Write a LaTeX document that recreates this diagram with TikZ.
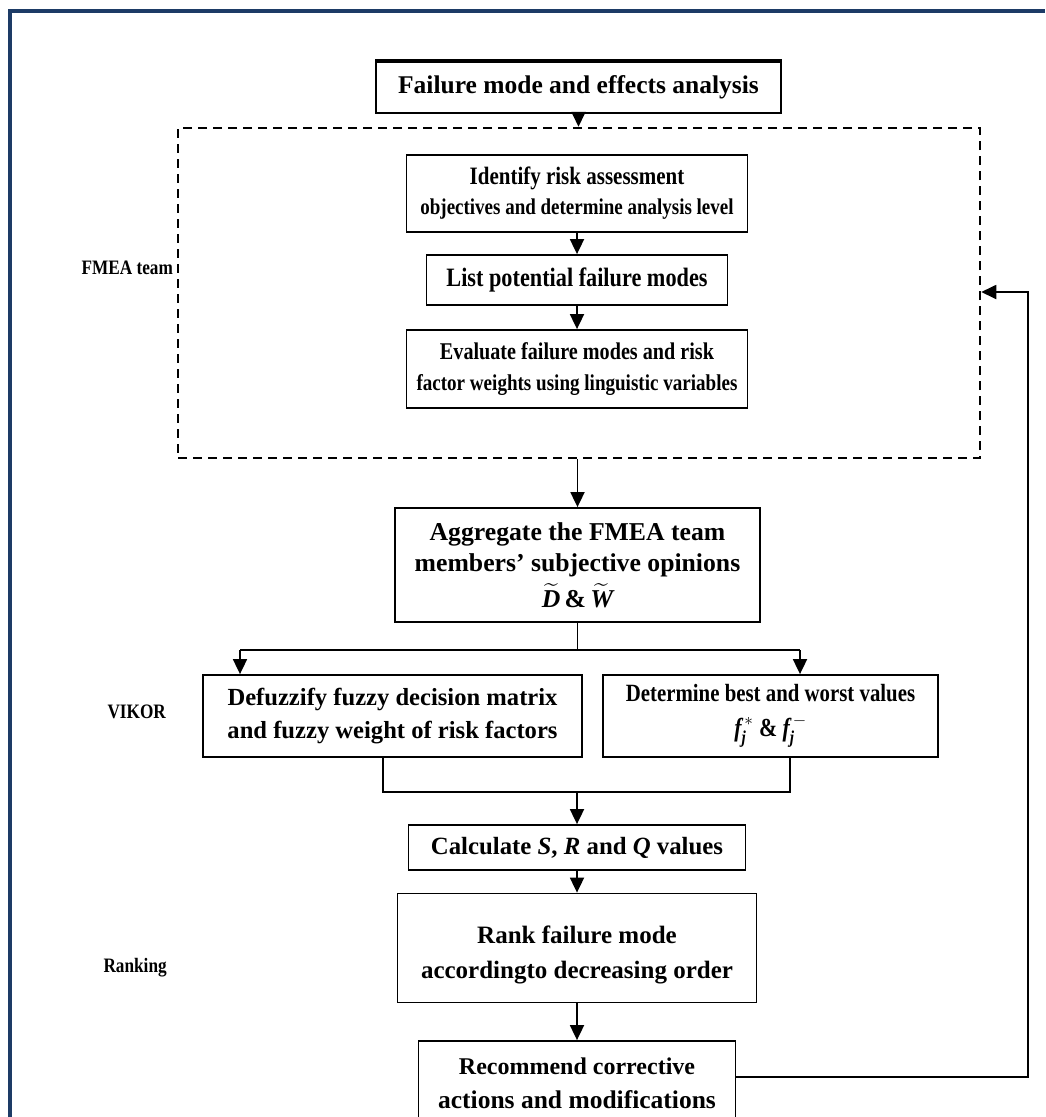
\documentclass[tikz,border=0pt]{standalone}
\usepackage{amsmath}
\usepackage{fontspec}
\setmainfont{Liberation Serif}
\newfontfamily\narrowserif{Liberation Serif}[FakeStretch=0.84]
\usetikzlibrary{arrows.meta}
\definecolor{frameblue}{HTML}{1D3B66}
\newcommand{\fs}[2]{\bfseries\fontsize{#1}{#2}\selectfont}
\newcommand{\nfs}[2]{\narrowserif\bfseries\fontsize{#1}{#2}\selectfont}
\tikzset{
  box/.style={draw, line width=1.8pt, align=center, inner sep=0pt},
  flow/.style={line width=1.8pt, -{Triangle[length=15pt,width=14pt]}},
  link/.style={line width=1.8pt},
  teambox/.style={draw, line width=2.5pt, dash pattern=on 9pt off 6pt},
  sidelabel/.style={anchor=west, font=\nfs{20.5}{22}},
}
\begin{document}
\begin{tikzpicture}[x=1pt,y=-1pt]
\useasboundingbox (0,0) rectangle (1045,1117);
\fill[white] (0,0) rectangle (1045,1117);
% outer frame
\fill[frameblue] (8,9) rectangle (1045,13);
\fill[frameblue] (8,9) rectangle (12,1117);

% top box
\node[box, font=\fs{25.5}{30}, minimum width=405pt, minimum height=51pt] (fmea) at (578.5,87.5)
  {Failure mode and effects analysis};
\draw[line width=3.6pt] (fmea.north west) -- (fmea.north east);

% team block
\node[teambox, minimum width=802pt, minimum height=330pt] (team) at (579,293) {};

\node[box, font=\nfs{22.6}{30}, minimum width=341pt, minimum height=77pt] (ident) at (577,193.5)
  {\fontsize{25}{30}\selectfont Identify risk assessment\\\fontsize{22.6}{30}\selectfont objectives and determine analysis level};
\node[box, font=\nfs{26.5}{30}, minimum width=301pt, minimum height=50pt] (list) at (577,280)
  {List potential failure modes};
\node[box, font=\nfs{22.7}{31}, minimum width=341pt, minimum height=78pt] (eval) at (577,369)
  {\fontsize{24}{31}\selectfont Evaluate failure modes and risk\\\fontsize{22.7}{31}\selectfont factor weights using linguistic variables};

% aggregation
\node[box, font=\fs{25.7}{31}, minimum width=365pt, minimum height=114pt] (agg) at (577.5,565)
  {Aggregate the FMEA team\\members’ subjective opinions\\[5pt]
   $\widetilde{\textit{D}}$\,\&\,$\widetilde{\textit{W}}$};

% VIKOR stage
\node[box, font=\fs{24.6}{33}, minimum width=379pt, minimum height=82pt] (defz) at (392.5,716)
  {Defuzzify fuzzy decision matrix\\and fuzzy weight of risk factors};
\node[box, font=\nfs{24.8}{35}, minimum width=335pt, minimum height=82pt] (best) at (770.5,716)
  {Determine best and worst values\\
   {\fontsize{26}{35}\selectfont$\textit{f}^{\,*}_{\textit{j}}$ \& $\textit{f}^{\,-}_{\textit{j}}$}};

\node[box, font=\fs{24.8}{30}, minimum width=337pt, minimum height=45pt] (calc) at (577,847.5)
  {Calculate \textit{S}, \textit{R} and \textit{Q} values};

% ranking stage
\node[box, font=\fs{25}{35}, minimum width=359pt, minimum height=109pt] (rank) at (577,948)
  {\begin{tabular}{@{}c@{}}\rule{0pt}{36pt}Rank failure mode\\accordingto decreasing order\end{tabular}};
\node[box, font=\fs{25}{34}, minimum width=317pt, minimum height=84pt] (rec) at (577,1083)
  {\fontsize{24}{34}\selectfont Recommend corrective\\\fontsize{25.5}{34}\selectfont actions and modifications};

% side labels
\node[sidelabel] (lteam) at (78,268) {FMEA team};
\node[sidelabel] (lvikor) at (104,712) {VIKOR};
\node[sidelabel] (lrank) at (100,968) {Ranking};

% connectors
\draw[flow] (fmea.south) -- (fmea.south |- team.north);
\draw[flow] (ident.south) -- (list.north);
\draw[flow] (list.south) -- (eval.north);
\draw[flow] (team.south -| agg.north) -- (agg.north);

\coordinate (split) at (577.5,650);
\coordinate (sl) at (240,650);
\coordinate (sr) at (800,650);
\draw[link] (agg.south) -- (split);
\draw[link] (sl) -- (sr);
\draw[flow] (sl) -- (sl |- defz.north);
\draw[flow] (sr) -- (sr |- best.north);

\coordinate (ml) at (383,792);
\coordinate (mr) at (790,792);
\draw[link] (ml |- defz.south) -- (ml) -- (mr) -- (mr |- best.south);
\draw[flow] (calc.north |- ml) -- (calc.north);

\draw[flow] (calc.south) -- (rank.north);
\draw[flow] (rank.south) -- (rec.north);

% feedback loop
\coordinate (fb) at (1028,1077);
\coordinate (ft) at (1028,292);
\draw[flow] (rec.east |- fb) -- (fb) -- (ft) -- (ft -| team.east);
\end{tikzpicture}
\end{document}
